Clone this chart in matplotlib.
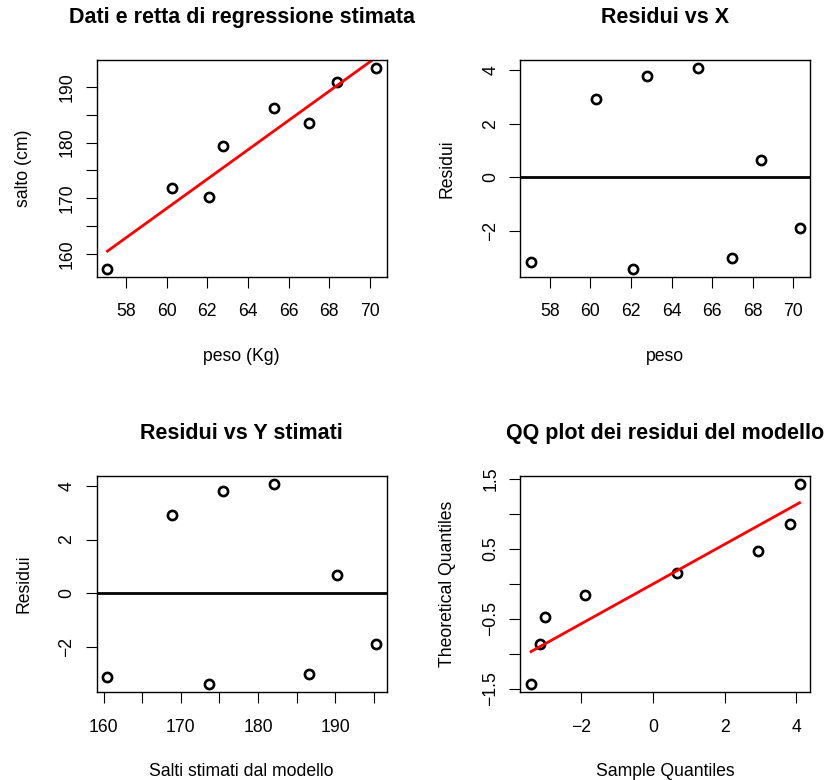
import numpy as np
import matplotlib
matplotlib.use("Agg")
import matplotlib.pyplot as plt
from statistics import NormalDist

plt.rcParams["font.family"] = ["Liberation Sans", "DejaVu Sans"]

# peso (Kg) and salto (cm)
peso = np.array([57.08, 60.28, 62.08, 62.79, 65.28, 66.99, 68.40, 70.30])
salto = np.array([157.35, 171.84, 170.25, 179.33, 186.16, 183.55, 190.94, 193.38])

TITLES = ["Dati e retta di regressione stimata", "Residui vs X",
          "Residui vs Y stimati", "QQ plot dei residui del modello"]

FS_LAB = 12.7
FS_TITLE = 15.5
W, H = 826, 780


def rlim(v):
    lo, hi = np.min(v), np.max(v)
    r = hi - lo
    return lo - 0.04 * r, hi + 0.04 * r


def setup(ax, xticks, xlabels, yticks, ylabels, xlab, ylab, title):
    ax.set_xticks(xticks)
    ax.set_xticklabels(xlabels)
    ax.set_yticks(yticks)
    ax.set_yticklabels(ylabels, rotation=90, va="center")
    ax.tick_params(direction="out", length=7.7, width=0.8, labelsize=FS_LAB, color="black")
    ax.tick_params(axis="x", pad=11.5)
    ax.tick_params(axis="y", pad=7.5)
    for s in ax.spines.values():
        s.set_linewidth(1.0)
    ax.set_xlabel(xlab, fontsize=FS_LAB)
    ax.set_ylabel(ylab, fontsize=FS_LAB)
    ax.xaxis.set_label_coords(0.5, -0.327)
    ax.yaxis.set_label_coords(-0.222, 0.5)
    ax.set_title(title, fontsize=FS_TITLE, fontweight="bold", pad=26.5)


def labs(vals, keep):
    return [(f"{v:g}".replace("-", "\u2212") if keep(v) else "") for v in vals]


def main():
    b, a = np.polyfit(peso, salto, 1)
    fitted = a + b * peso
    res = salto - fitted
    n = len(res)
    sigma = np.sqrt(np.sum(res ** 2) / (n - 2))

    order = np.argsort(res)
    sres = res[order]
    pp = (np.arange(1, n + 1) - 3 / 8) / (n + 1 - 2 * 3 / 8)
    theo = np.array([NormalDist().inv_cdf(p) for p in pp])

    fig = plt.figure(figsize=(W / 100, H / 100), dpi=100)
    left = [96.7 / W, 520.3 / W]
    bottom = [1 - 276.7 / H, 1 - 692.3 / H]
    w = 290 / W
    h = 216.7 / H
    ax1 = fig.add_axes([left[0], bottom[0], w, h])
    ax2 = fig.add_axes([left[1], bottom[0], w, h])
    ax3 = fig.add_axes([left[0], bottom[1], w, h])
    ax4 = fig.add_axes([left[1], bottom[1], w, h])

    mk = dict(marker="o", ms=6.6, mfc="none", mec="black", mew=1.9, ls="none")

    # panel 1: data + fitted line
    ax1.plot(peso, salto, **mk)
    ax1.plot(peso, fitted, color="red", lw=2.0)
    ax1.set_xlim(rlim(peso))
    ax1.set_ylim(rlim(salto))
    xt = np.arange(58, 71, 2)
    yt = np.arange(160, 191, 5)
    setup(ax1, xt, labs(xt, lambda v: True), yt, labs(yt, lambda v: v % 10 == 0),
          "peso (Kg)", "salto (cm)", TITLES[0])

    # panel 2: residuals vs X
    ax2.plot(peso, res, **mk)
    ax2.axhline(0, color="black", lw=2.0)
    ax2.set_xlim(rlim(peso))
    ax2.set_ylim(rlim(res))
    yt = np.arange(-2, 5, 2)
    setup(ax2, xt, labs(xt, lambda v: True), yt, labs(yt, lambda v: True),
          "peso", "Residui", TITLES[1])

    # panel 3: residuals vs fitted
    ax3.plot(fitted, res, **mk)
    ax3.axhline(0, color="black", lw=2.0)
    ax3.set_xlim(rlim(fitted))
    ax3.set_ylim(rlim(res))
    xt3 = np.arange(160, 196, 5)
    setup(ax3, xt3, labs(xt3, lambda v: v % 10 == 0), yt, labs(yt, lambda v: True),
          "Salti stimati dal modello", "Residui", TITLES[2])

    # panel 4: QQ plot, sample on x
    ax4.plot(sres, theo, **mk)
    ax4.plot(sres, sres / sigma, color="red", lw=2.0)
    ax4.set_xlim(rlim(sres))
    ax4.set_ylim(rlim(theo))
    xt4 = np.arange(-2, 5, 2)
    yt4 = np.arange(-1.5, 1.6, 0.5)
    setup(ax4, xt4, labs(xt4, lambda v: True), yt4,
          labs(yt4, lambda v: abs(round(v * 2)) % 2 == 1),
          "Sample Quantiles", "Theoretical Quantiles", TITLES[3])

    fig.savefig("out.png", dpi=100)


if __name__ == "__main__":
    main()
